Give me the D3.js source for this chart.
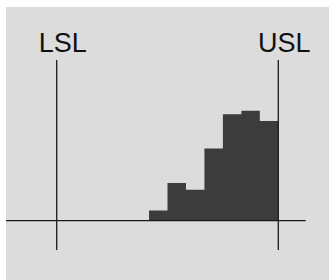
<!DOCTYPE html>
<html><head><meta charset="utf-8">
<script src="https://cdn.jsdelivr.net/npm/d3@7"></script>
<style>html,body{margin:0;padding:0;background:#fff;}svg{display:block;}</style>
</head><body>
<script>
// Data
const binStarts = [5, 6, 7, 8, 9, 10, 11];
const binWidth = 1;
const counts = [3, 11, 9, 21, 31, 32, 29];
const specLabels = ["LSL", "USL"];
const specValues = [0, 12];

const W = 329, H = 280;
const svg = d3.select("body").append("svg").attr("width", W).attr("height", H);

svg.append("rect").attr("x", 6).attr("y", 7).attr("width", W - 6).attr("height", H - 7).attr("fill", "#dcdcdc");

const x = d3.scaleLinear().domain([0, 12]).range([56.7, 278.3]);
const y = d3.scaleLinear().domain([0, 32]).range([220.7, 110.7]);

// histogram as a stepped area (bars share edges without seams)
const pts = counts.map((c, i) => ({ x: binStarts[i], c }));
pts.push({ x: binStarts[binStarts.length - 1] + binWidth, c: counts[counts.length - 1] });
const area = d3.area()
  .x(d => x(d.x))
  .y0(y(0))
  .y1(d => y(d.c))
  .curve(d3.curveStepAfter);
svg.append("path").datum(pts).attr("d", area).attr("fill", "#3c3c3c");

// baseline
svg.append("line")
  .attr("x1", 6).attr("x2", 305.7)
  .attr("y1", y(0)).attr("y2", y(0))
  .attr("stroke", "#1a1a1a").attr("stroke-width", 1.3);

// spec lines
const g = svg.append("g");
specValues.forEach((v, i) => {
  g.append("line")
    .attr("x1", x(v)).attr("x2", x(v))
    .attr("y1", 60).attr("y2", 250)
    .attr("stroke", "#1a1a1a").attr("stroke-width", 1.3);
  g.append("text")
    .attr("x", x(v) + 6)
    .attr("y", 52)
    .attr("text-anchor", "middle")
    .attr("font-family", "Liberation Sans, Arial, sans-serif")
    .attr("font-size", 27)
    .attr("fill", "#111")
    .text(specLabels[i]);
});
</script>
</body></html>
